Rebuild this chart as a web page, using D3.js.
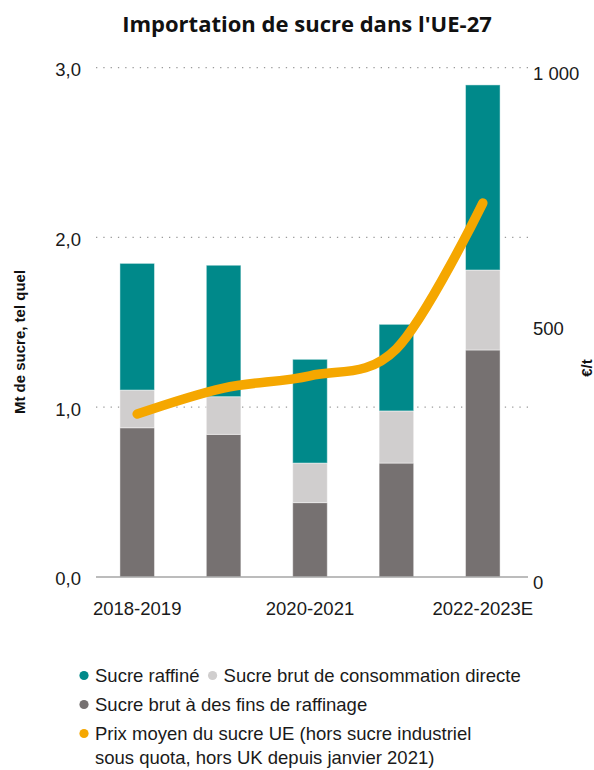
<!DOCTYPE html>
<html lang="fr">
<head>
<meta charset="utf-8">
<title>Importation de sucre dans l'UE-27</title>
<script src="https://cdn.jsdelivr.net/npm/d3@7"></script>
<style>
  html, body { margin: 0; padding: 0; background: #ffffff; }
  svg { display: block; }
  .axis text { font-family: "Liberation Sans", Arial, sans-serif; font-size: 18.5px; fill: #1a1a1a; }
</style>
</head>
<body>
<script>
// Campaigns (x categories)
const periods = ["2018-2019", "2019-2020", "2020-2021", "2021-2022", "2022-2023E"];
const periodLabels = ["2018-2019", "2020-2021", "2022-2023E"];

// Imports, Mt of sugar (as is)
const brutRaffinage = [0.879, 0.840, 0.438, 0.671, 1.337];   // raw sugar for refining
const brutDirecte   = [0.222, 0.222, 0.233, 0.307, 0.471];   // raw sugar for direct consumption
const raffine       = [0.746, 0.774, 0.611, 0.510, 1.090];   // refined sugar

// Average EU sugar price, €/t
const prixMoyen = [320, 371, 395, 448, 734];

// Axis ticks
const leftTicks = [0, 1, 2, 3];
const leftTickLabels = ["0,0", "1,0", "2,0", "3,0"];
const rightTicks = [0, 500, 1000];
const rightTickLabels = ["0", "500", "1 000"];

// Legend
const legendLabels = [
  "Sucre raffiné",
  "Sucre brut de consommation directe",
  "Sucre brut à des fins de raffinage",
  "Prix moyen du sucre UE (hors sucre industriel|sous quota, hors UK depuis janvier 2021)"
];
const legendColors = ["#00898a", "#d0cece", "#767171", "#f5a700"];

const W = 594, H = 770;
const svg = d3.select("body").append("svg").attr("width", W).attr("height", H);

const plotLeft = 96, plotRight = 528;
const y = d3.scaleLinear().domain([0, 3]).range([577, 67.6]);
const yR = d3.scaleLinear().domain([0, 1000]).range([577, 67.6]);
const x = d3.scaleBand().domain(periods).range([94, 526]).paddingInner(0.6).paddingOuter(0.3);

// Title
const title = svg.append("text")
  .attr("x", 307).attr("y", 32)
  .attr("text-anchor", "middle")
  .style("font-family", "'Open Sans', 'Noto Sans', sans-serif")
  .style("font-weight", 700)
  .style("font-size", "20px")
  .style("fill", "#111")
  .text("Importation de sucre dans l'UE-27");
{
  const w = title.node().getComputedTextLength();
  title.style("font-size", (20 * 370 / w).toFixed(2) + "px");
}

// Dotted gridlines
svg.append("g").selectAll("line")
  .data(leftTicks.filter(d => d > 0))
  .join("line")
  .attr("x1", plotLeft).attr("x2", plotRight)
  .attr("y1", d => y(d)).attr("y2", d => y(d))
  .attr("stroke", "#9a9a9a")
  .attr("stroke-width", 1.3)
  .attr("stroke-dasharray", "1.3 6");

// Stacked bars
const rows = periods.map((p, i) => ({
  period: p,
  brutRaffinage: brutRaffinage[i],
  brutDirecte: brutDirecte[i],
  raffine: raffine[i]
}));
const keys = ["brutRaffinage", "brutDirecte", "raffine"];
const colorOf = { raffine: legendColors[0], brutDirecte: legendColors[1], brutRaffinage: legendColors[2] };
const stacked = d3.stack().keys(keys)(rows);

svg.append("g").selectAll("g")
  .data(stacked)
  .join("g")
  .attr("fill", d => colorOf[d.key])
  .selectAll("rect")
  .data(d => d)
  .join("rect")
  .attr("x", d => x(d.data.period))
  .attr("width", x.bandwidth())
  .attr("y", d => y(d[1]))
  .attr("height", d => y(d[0]) - y(d[1]))
  .attr("stroke", "#ffffff")
  .attr("stroke-opacity", 0.45)
  .attr("stroke-width", 1);

// Baseline
svg.append("line")
  .attr("x1", plotLeft).attr("x2", plotRight)
  .attr("y1", y(0)).attr("y2", y(0))
  .attr("stroke", "#a6a6a6").attr("stroke-width", 1.5);

// Price line (right axis)
const line = d3.line()
  .x((d, i) => x(periods[i]) + x.bandwidth() / 2)
  .y(d => yR(d))
  .curve(d3.curveCardinal);
svg.append("path")
  .datum(prixMoyen)
  .attr("d", line)
  .attr("fill", "none")
  .attr("stroke", legendColors[3])
  .attr("stroke-width", 9.5)
  .attr("stroke-linecap", "round")
  .attr("stroke-linejoin", "round");

// Left axis
svg.append("g").attr("class", "axis")
  .attr("transform", "translate(81,2)")
  .call(d3.axisLeft(y).tickValues(leftTicks).tickSize(0).tickPadding(0)
    .tickFormat((d, i) => leftTickLabels[i]))
  .call(g => g.select(".domain").remove());

// Right axis
svg.append("g").attr("class", "axis")
  .attr("transform", "translate(533,6)")
  .call(d3.axisRight(yR).tickValues(rightTicks).tickSize(0).tickPadding(0)
    .tickFormat((d, i) => rightTickLabels[i]))
  .call(g => g.select(".domain").remove());

// Bottom axis
svg.append("g").attr("class", "axis")
  .attr("transform", "translate(0,577)")
  .call(d3.axisBottom(x).tickValues(periodLabels).tickSize(0).tickPadding(25))
  .call(g => g.select(".domain").remove());

// Axis titles
svg.append("text")
  .attr("transform", "translate(25,342) rotate(-90)")
  .attr("text-anchor", "middle")
  .style("font-family", "'Liberation Sans', Arial, sans-serif")
  .style("font-weight", 700).style("font-size", "15px").style("fill", "#111")
  .text("Mt de sucre, tel quel");

svg.append("text")
  .attr("transform", "translate(592,368) rotate(-90)")
  .attr("text-anchor", "middle")
  .style("font-family", "'Liberation Sans', Arial, sans-serif")
  .style("font-weight", 700).style("font-size", "15px").style("fill", "#111")
  .text("€/t");

// Legend
const lg = svg.append("g")
  .style("font-family", "'Liberation Sans', Arial, sans-serif")
  .style("font-size", "18.5px").style("fill", "#1a1a1a");

function legendItem(cx, baseline, color, label) {
  lg.append("circle").attr("cx", cx).attr("cy", baseline - 6.5).attr("r", 4.6).attr("fill", color);
  const parts = label.split("|");
  const t = lg.append("text").attr("x", cx + 11).attr("y", baseline);
  parts.forEach((p, k) => {
    t.append("tspan").attr("x", cx + 11).attr("dy", k === 0 ? 0 : 24).text(p);
  });
  return t;
}
const first = legendItem(84, 682, legendColors[0], legendLabels[0]);
const firstEnd = 95 + first.node().getComputedTextLength();
legendItem(firstEnd + 13, 682, legendColors[1], legendLabels[1]);
legendItem(84, 711, legendColors[2], legendLabels[2]);
legendItem(84, 740, legendColors[3], legendLabels[3]);
</script>
</body>
</html>
